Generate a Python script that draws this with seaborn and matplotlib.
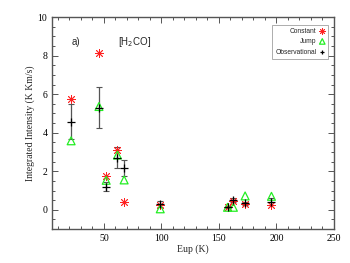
import matplotlib
matplotlib.use("Agg")
import matplotlib.pyplot as plt
import seaborn as sns
import pandas as pd
import numpy as np

# Eup (K) of each transition
eup = [21.5, 45.7, 52.0, 61.8, 67.6, 99.0, 157.5, 162.6, 172.8, 195.7]
# model integrated intensities (K km/s)
constant = [5.73, 8.12, 1.75, 3.12, 0.38, 0.26, 0.17, 0.44, 0.31, 0.26]
jump = [3.58, 5.36, 1.53, 2.84, 1.55, 0.05, 0.13, 0.13, 0.72, 0.70]
# observed intensities with errors
observed = [4.57, 5.30, 1.20, 2.70, 2.18, 0.30, 0.15, 0.50, 0.33, 0.42]
obs_err = [0.90, 1.07, 0.25, 0.55, 0.42, 0.14, 0.06, 0.10, 0.08, 0.18]

df = pd.DataFrame({"Eup": eup, "Constant": constant, "Jump": jump,
                   "Observational": observed, "err": obs_err})

sns.set_style("ticks")
plt.rcParams["font.family"] = ["Liberation Serif", "DejaVu Serif"]

fig = plt.figure(figsize=(3.5, 2.63), dpi=100)
ax = fig.add_axes([0.149, 0.129, 0.805, 0.806])

ax.errorbar(df["Eup"], df["Observational"], yerr=df["err"], fmt="none",
            ecolor="#555555", elinewidth=0.9, capsize=2, capthick=0.8, zorder=2)

sns.scatterplot(data=df, x="Eup", y="Constant", ax=ax, marker=(8, 2, 0),
                s=34, color="#ff2020", edgecolor="#ff2020", linewidth=0.6,
                label="Constant", zorder=3)
sns.scatterplot(data=df, x="Eup", y="Jump", ax=ax, marker="^", s=32,
                facecolor="none", edgecolor="#22ee22", linewidth=0.9,
                label="Jump", zorder=4)
sns.scatterplot(data=df, x="Eup", y="Observational", ax=ax, marker="+",
                s=26, color="black", linewidth=0.9,
                label="Observational", zorder=5)

ax.set_xlim(5, 250)
ax.set_ylim(-1, 10)
ax.set_xticks([50, 100, 150, 200, 250])
ax.set_xticks(np.arange(10, 250, 10), minor=True)
ax.set_yticks([0, 2, 4, 6, 8, 10])
ax.set_yticks(np.arange(-1, 10.01, 0.5), minor=True)
ax.tick_params(which="both", direction="in", top=True, right=True,
               colors="#555555", labelcolor="black", labelsize=7, width=0.7)
ax.tick_params(which="major", length=4)
ax.tick_params(which="minor", length=2)
for sp in ax.spines.values():
    sp.set_color("#555555")
    sp.set_linewidth(1.0)

ax.set_xlabel("Eup (K)", fontsize=7, labelpad=1)
ax.set_ylabel("Integrated Intensity (K Km/s)", fontsize=7, labelpad=2)

sans = ["Liberation Sans", "DejaVu Sans"]
ax.text(0.07, 0.87, "a)", transform=ax.transAxes, fontsize=7, family=sans)
ax.text(0.235, 0.87, "[H$_2$CO]", transform=ax.transAxes, fontsize=7, family=sans)

leg = ax.legend(loc="upper right", markerfirst=False, markerscale=0.7,
                prop={"family": sans, "size": 4.8}, frameon=True, fancybox=False,
                edgecolor="#888888", handlelength=0.8, handletextpad=0.5,
                borderpad=0.5, labelspacing=0.5, borderaxespad=0.0,
                bbox_to_anchor=(0.98, 0.965))
leg.get_frame().set_linewidth(0.6)

fig.savefig("out.png", dpi=100)
